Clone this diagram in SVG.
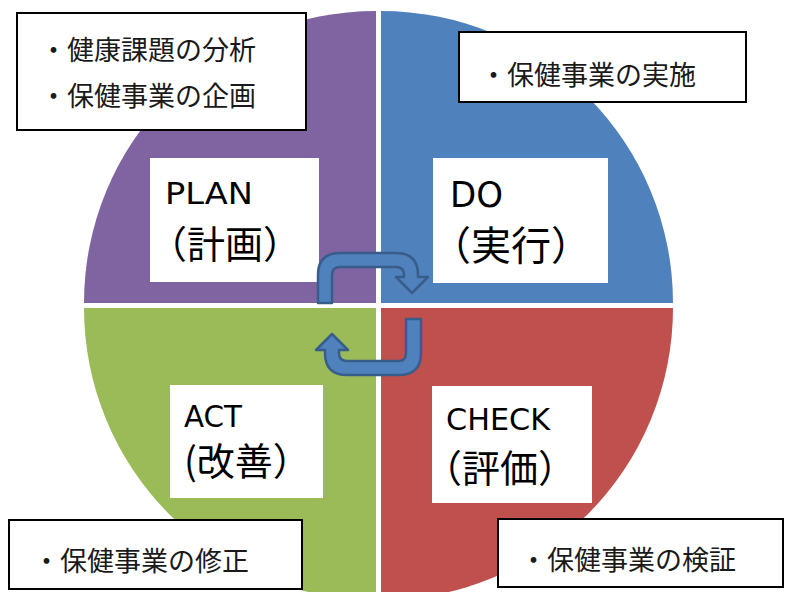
<svg xmlns="http://www.w3.org/2000/svg" width="785" height="592" viewBox="0 0 785 592">
<style>
.bg{fill:#ffffff}
.lbl{fill:#ffffff}
.note{fill:#ffffff;stroke:#000000;stroke-width:2}
.lat{font-family:"DejaVu Sans","Noto Sans CJK JP",sans-serif;fill:#000000}
.cjk{font-family:"Noto Sans CJK JP","DejaVu Sans",sans-serif;fill:#000000}
.nt{font-family:"Noto Sans CJK JP",sans-serif;font-size:27px;fill:#1a1a1a}
.uturn{fill:#4F81BD;stroke:#385D8A;stroke-width:2.5;stroke-linejoin:round}
</style>
<rect class="bg" x="0" y="0" width="785" height="592"/>
<g id="plan">
<path d="M376,303 L84,303 A292,292 0 0 1 376,11 Z" fill="#8064A2"/>
<rect class="lbl" x="150" y="158" width="169" height="124"/>
<text class="lat" x="165" y="204" font-size="30" textLength="88" lengthAdjust="spacingAndGlyphs">PLAN</text>
<text class="cjk" x="149" y="258" font-size="38">（計画）</text>
</g>
<g id="do">
<path d="M381,303 L381,11 A292,292 0 0 1 673,303 Z" fill="#4F81BD"/>
<rect class="lbl" x="433" y="158" width="175" height="125"/>
<text class="lat" x="450" y="207" font-size="35" textLength="53" lengthAdjust="spacingAndGlyphs">DO</text>
<text class="cjk" x="431" y="260" font-size="40">（実行）</text>
</g>
<g id="check">
<path d="M381,308 L673,308 A292,292 0 0 1 381,600 Z" fill="#C0504D"/>
<rect class="lbl" x="432" y="386" width="160" height="117"/>
<text class="lat" x="446" y="430" font-size="30" textLength="104" lengthAdjust="spacingAndGlyphs">CHECK</text>
<text class="cjk" x="424" y="482" font-size="38">（評価）</text>
</g>
<g id="act">
<path d="M376,308 L376,600 A292,292 0 0 1 84,308 Z" fill="#9BBB59"/>
<rect class="lbl" x="170" y="385" width="153" height="113"/>
<text class="lat" x="184" y="427" font-size="30" textLength="58" lengthAdjust="spacingAndGlyphs">ACT</text>
<text class="cjk" x="184" y="475" font-size="38">(改善）</text>
</g>
<g id="connectors">
<path class="uturn" d="M318,303 L318,275 Q318,253 340,253 L396,253 Q418,253 418,275 L418,277 L428,277 L412,293 L396,277 L404,277 L404,275 Q404,267 396,267 L340,267 Q332,267 332,275 L332,303 Z"/>
<path class="uturn" d="M406,319 L421,319 L421,353 Q421,375 399,375 L347,375 Q325,375 325,353 L325,350 L316,350 L332,334 L348,350 L339,350 L339,353 Q339,361 347,361 L399,361 Q406,361 406,353 Z"/>
</g>
<g id="note-plan">
<rect class="note" x="17" y="13" width="289" height="117"/>
<text class="nt" x="40" y="60">・健康課題の分析</text>
<text class="nt" x="40" y="106">・保健事業の企画</text>
</g>
<g id="note-do">
<rect class="note" x="459" y="32" width="287" height="70"/>
<text class="nt" x="480" y="85">・保健事業の実施</text>
</g>
<g id="note-act">
<rect class="note" x="9" y="520" width="293" height="69"/>
<text class="nt" x="33" y="571">・保健事業の修正</text>
</g>
<g id="note-check">
<rect class="note" x="498" y="519" width="285" height="68"/>
<text class="nt" x="520" y="570">・保健事業の検証</text>
</g>
</svg>
